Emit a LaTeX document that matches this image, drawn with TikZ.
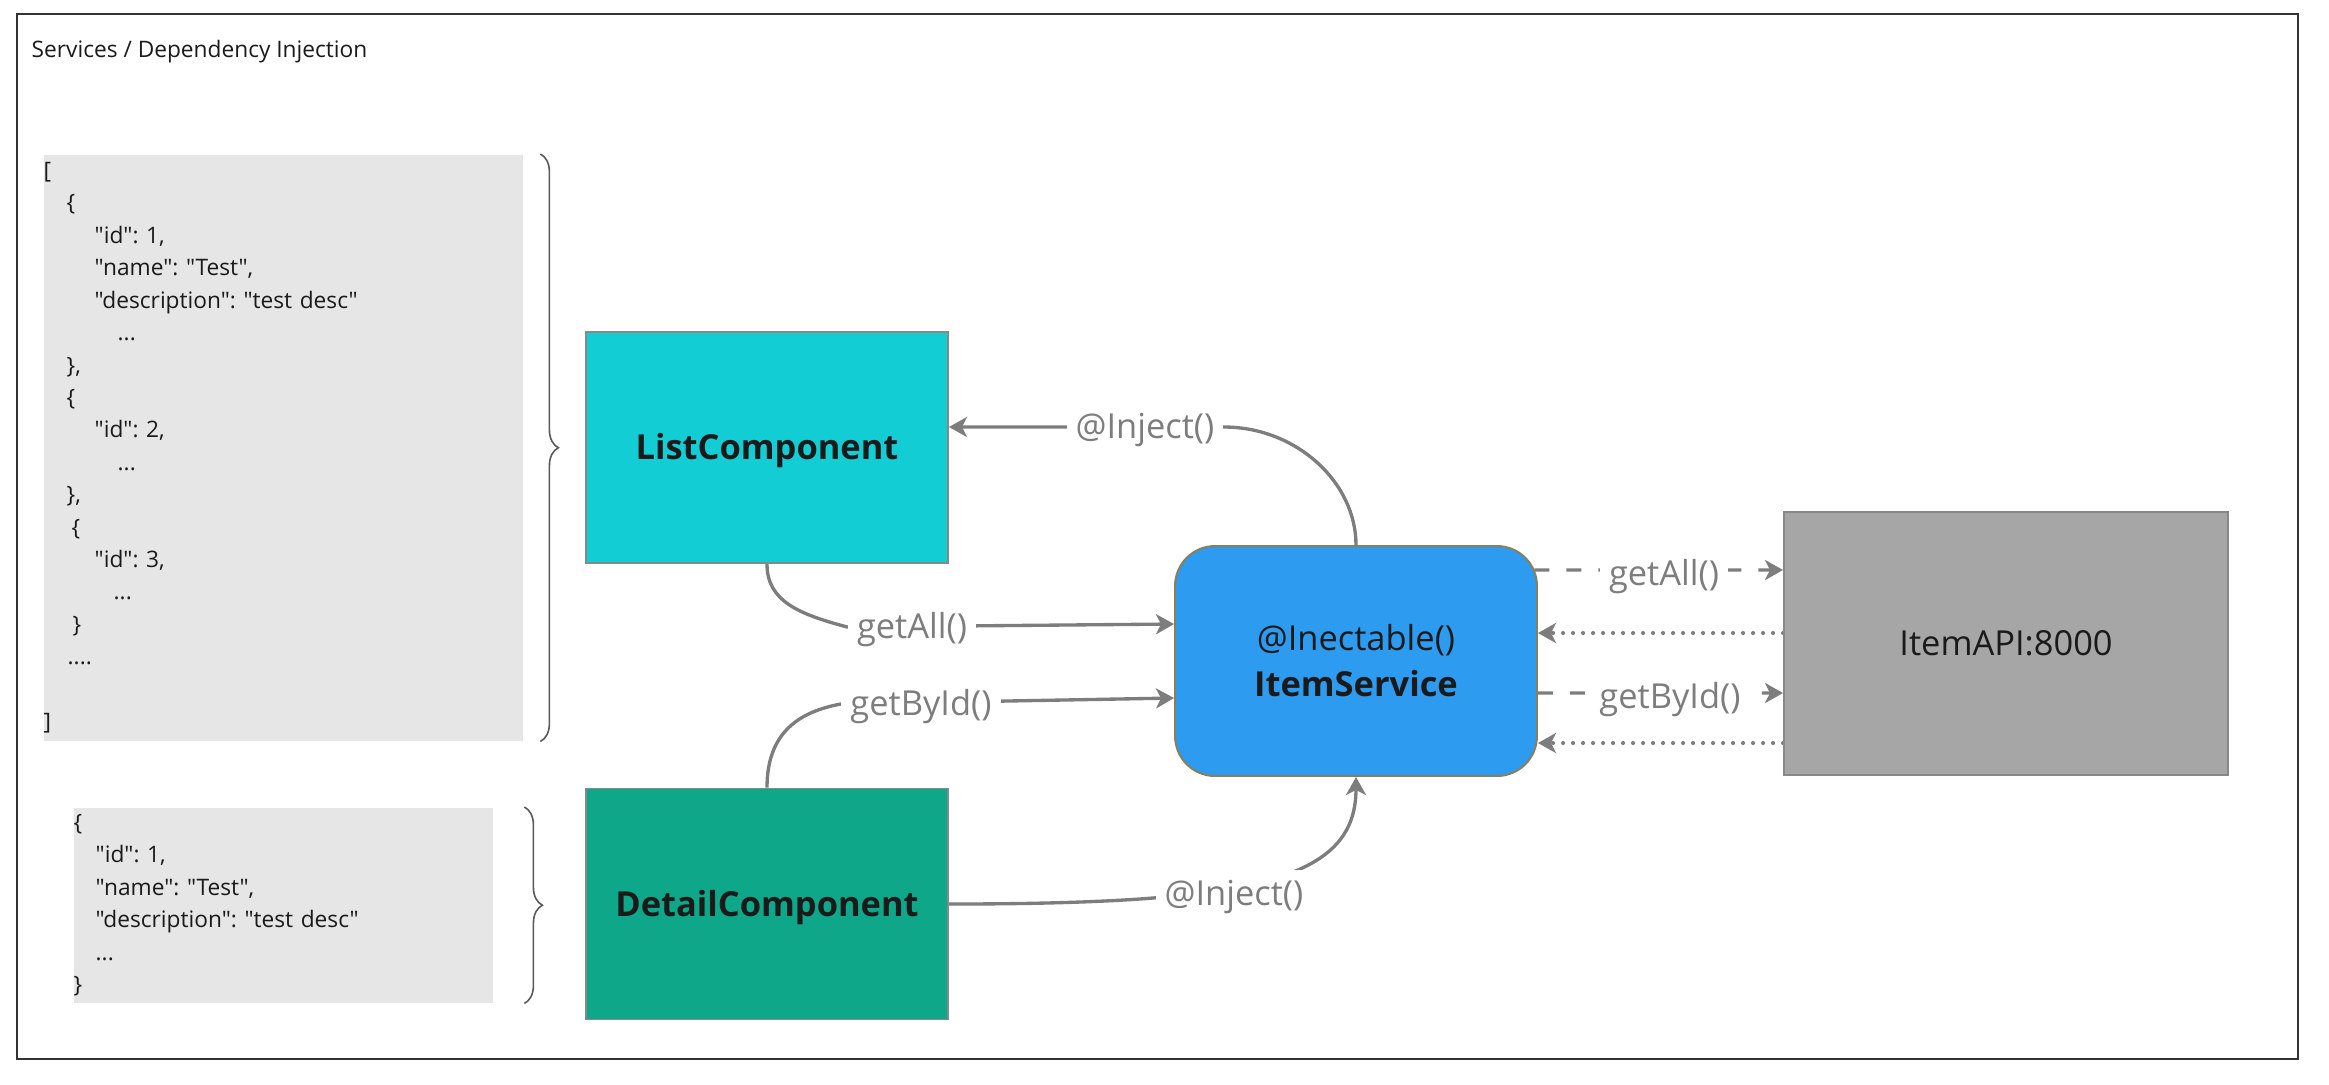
\documentclass[tikz,border=0pt]{standalone}
\usepackage{fontspec}
\setmainfont{Open Sans}
\newfontfamily\opensans{Open Sans}
\usepackage{xcolor}
\usepackage{tikz}
\usetikzlibrary{arrows.meta, positioning, backgrounds, decorations.pathreplacing}

\definecolor{listcyan}{HTML}{13CDD4}
\definecolor{detailteal}{HTML}{0EA789}
\definecolor{serviceblue}{HTML}{2D9BEF}
\definecolor{servicerim}{HTML}{8A7F5A}
\definecolor{apigray}{HTML}{A6A6A6}
\definecolor{jsongray}{HTML}{E6E6E6}
\definecolor{wiregray}{HTML}{7D7D7D}
\definecolor{edgegray}{HTML}{888888}
\definecolor{ink}{HTML}{1A1A1A}

\newcommand{\jsontxt}{\opensans\frenchspacing\fontsize{6.46pt}{9.22pt}\selectfont}
\newcommand{\boxtxt}{\opensans\fontsize{9.8pt}{13.1pt}\selectfont}

\begin{document}
\begin{tikzpicture}[
        comp/.style={draw=edgegray, line width=0.55pt, minimum width=3.62cm,
            minimum height=2.31cm, inner sep=0pt, font=\boxtxt\bfseries, text=ink},
        oneline/.style={text height=7pt, text depth=0pt},
        json/.style={fill=jsongray, inner sep=0pt, anchor=north west, align=left,
            font=\jsontxt, text=ink},
        lbl/.style={fill=white, text=wiregray, font=\boxtxt, inner xsep=0.9mm,
            inner ysep=0.4mm, text height=8.8pt, text depth=2.45pt},
        wire/.style={draw=wiregray, line width=0.95pt,
            -{Stealth[length=1.8mm, width=2mm, inset=0.5mm]}},
        call/.style={wire, dash pattern=on 1.5mm off 1.7mm},
        reply/.style={wire, line width=1.15pt, line cap=round, dash pattern=on 0pt off 1mm},
        curly/.style={draw=black!65, line width=0.45pt, decorate,
            decoration={brace, amplitude=1.8mm}}
        ]

        %% Frame and title
        \useasboundingbox (0,0) rectangle (23.29,-10.84);
        \draw[draw=black!80, line width=0.6pt] (0.17,-0.14) rectangle (22.98,-10.59);
        \node[anchor=west, inner sep=0pt, font=\jsontxt, text=ink] (title) at (0.31,-0.52)
            {Services / Dependency Injection};

        %% JSON samples
        \node[json, text width=4.79cm, minimum height=5.86cm] (listjson) at (0.43,-1.54) {[\\
            \hspace*{0.23cm}\{\\
            \hspace*{0.51cm}"id": 1,\\
            \hspace*{0.51cm}"name": "Test",\\
            \hspace*{0.51cm}"description": "test desc"\\
            \hspace*{0.74cm}...\\
            \hspace*{0.23cm}\},\\
            \hspace*{0.23cm}\{\\
            \hspace*{0.51cm}"id": 2,\\
            \hspace*{0.74cm}...\\
            \hspace*{0.23cm}\},\\
            \hspace*{0.28cm}\{\\
            \hspace*{0.51cm}"id": 3,\\
            \hspace*{0.70cm}...\\
            \hspace*{0.29cm}\}\\
            \hspace*{0.24cm}....\\
            \mbox{}\\
            ]};
        \node[json, text width=4.19cm, minimum height=1.95cm] (detailjson) at (0.73,-8.07) {\{\\
            \hspace*{0.22cm}"id": 1,\\
            \hspace*{0.22cm}"name": "Test",\\
            \hspace*{0.22cm}"description": "test desc"\\
            \hspace*{0.22cm}...\\
            \}};

        %% Braces
        \draw[curly] ([xshift=1.7mm]listjson.north east) -- ([xshift=1.7mm]listjson.south east);
        \draw[curly] ([xshift=3.1mm]detailjson.north east) -- ([xshift=3.1mm]detailjson.south east);

        %% Components
        \node[comp, oneline, fill=listcyan] (list) at (7.67,-4.475) {ListComponent};
        \node[comp, oneline, fill=detailteal] (detail) at (7.67,-9.04) {DetailComponent};
        \node[comp, fill=serviceblue, draw=servicerim, rounded corners=0.4cm,
            minimum height=2.30cm, align=center, font=\boxtxt] (service) at (13.56,-6.61)
            {@Inectable()\\\textbf{ItemService}};
        \node[comp, oneline, fill=apigray, minimum width=4.44cm, minimum height=2.63cm,
            font=\boxtxt] (api) at (20.06,-6.435) {ItemAPI:8000};

        %% Connector labels
        \node[lbl] (injtop) at (11.45,-4.27) {@Inject()};
        \node[lbl] (getall) at (9.12,-6.27) {getAll()};
        \node[lbl] (getbyid) at (9.21,-7.04) {getById()};
        \node[lbl] (injbot) at (12.34,-8.94) {@Inject()};
        \node[lbl] (apiall) at (16.64,-5.74) {getAll()};
        \node[lbl] (apibyid) at (16.70,-6.97) {getById()};

        %% Connectors (under the labels)
        \begin{scope}[on background layer]
            \draw[wire] (service.north) .. controls +(0,0.63) and +(0.72,0) .. (injtop.east)
                -- ([yshift=2.05mm]list.east);
            \draw[wire] (list.south) .. controls +(0,-0.37) and +(-0.49,0.13) .. (getall.west)
                -- ([yshift=3.7mm]service.west);
            \draw[wire] (detail.north) .. controls +(0,0.54) and +(-0.43,-0.08) .. (getbyid.west)
                -- ([yshift=-3.7mm]service.west);
            \draw[wire] (detail.east) .. controls +(3.02,0) and +(0,-1.04) .. (service.south);

            \draw[call] ([xshift=-0.35mm,yshift=9.1mm]service.east) -- ([yshift=7.35mm]api.west);
            \draw[reply] ([yshift=1.05mm]api.west) -- ([yshift=2.8mm]service.east);
            \draw[call] ([yshift=-3.2mm]service.east) -- ([yshift=-4.95mm]api.west);
            \draw[reply] ([yshift=-9.95mm]api.west) -- ([yshift=-8.2mm]service.east);
        \end{scope}

    \end{tikzpicture}
\end{document}
